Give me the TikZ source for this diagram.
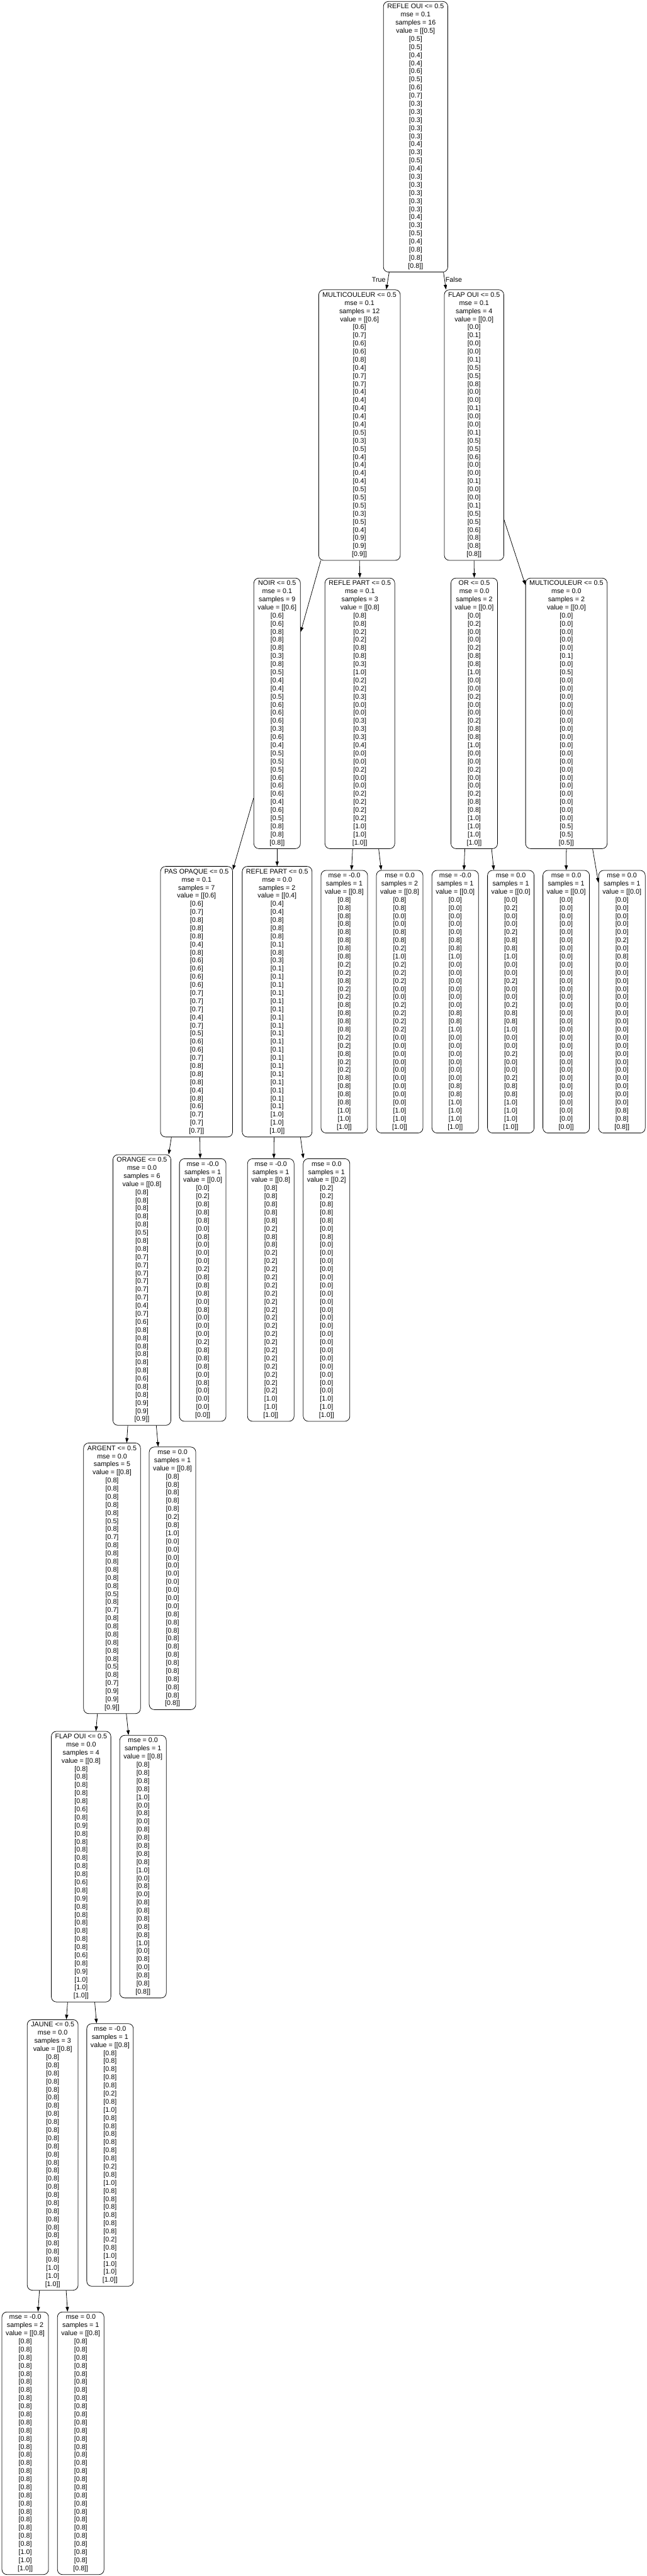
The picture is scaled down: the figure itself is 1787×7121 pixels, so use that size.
\documentclass[tikz,border=0pt]{standalone}
\usepackage{fontspec}
\usepackage{tikz}
\usetikzlibrary{arrows.meta}

\newfontfamily\gvfont{Liberation Sans}

%% one line "[x]" per value, the list is comma separated
\def\vrowsend{}
\def\vrows#1{\vrowsstep#1,\vrowsend,}
\def\vrowsstep#1#2,{\ifx\vrowsend#1\else\\{}[#1#2]\expandafter\vrowsstep\fi}

\begin{document}
\begin{tikzpicture}[x=1pt, y=-1pt,
    split/.style={draw, line width=1.33pt, rounded corners=14pt, align=center,
        inner xsep=10.6pt, inner ysep=0pt, minimum height=748pt,
        font=\gvfont\fontsize{18.67}{22.4}\selectfont},
    leaf/.style={split, minimum height=726pt},
    link/.style={line width=1.33pt, -{Triangle[length=13pt, width=9pt]}},
    branch/.style={font=\gvfont\fontsize{18.67}{22.4}\selectfont}]

        \useasboundingbox (0,0) rectangle (1787,7121);

        %% ── Racine ─────────────────────────────────────────────────────────
        \node[split] (reflOui) at (1148,378)
            {REFLE OUI <= 0.5\\mse = 0.1\\samples = 16\\value = [[0.5]\vrows{0.5,0.5,0.4,0.4,0.6,
             0.5,0.6,0.7,0.3,0.3,0.3,0.3,0.3,0.4,0.3,0.5,0.4,0.3,0.3,0.3,
             0.3,0.3,0.4,0.3,0.5,0.4,0.8,0.8,0.8}]};

        %% ── Niveau 1 ───────────────────────────────────────────────────────
        \node[split] (multiA) at (993,1175)
            {MULTICOULEUR <= 0.5\\mse = 0.1\\samples = 12\\value = [[0.6]\vrows{0.6,0.7,0.6,0.6,0.8,
             0.4,0.7,0.7,0.4,0.4,0.4,0.4,0.4,0.5,0.3,0.5,0.4,0.4,0.4,0.4,
             0.5,0.5,0.5,0.3,0.5,0.4,0.9,0.9,0.9}]};
        \node[split] (flapA) at (1309.5,1175)
            {FLAP OUI <= 0.5\\mse = 0.1\\samples = 4\\value = [[0.0]\vrows{0.0,0.1,0.0,0.0,0.1,
             0.5,0.5,0.8,0.0,0.0,0.1,0.0,0.0,0.1,0.5,0.5,0.6,0.0,0.0,0.1,
             0.0,0.0,0.1,0.5,0.5,0.6,0.8,0.8,0.8}]};

        %% ── Niveau 2 ───────────────────────────────────────────────────────
        \node[split] (noir) at (765.5,1972)
            {NOIR <= 0.5\\mse = 0.1\\samples = 9\\value = [[0.6]\vrows{0.6,0.6,0.8,0.8,0.8,
             0.3,0.8,0.5,0.4,0.4,0.5,0.6,0.6,0.6,0.3,0.6,0.4,0.5,0.5,0.5,
             0.6,0.6,0.6,0.4,0.6,0.5,0.8,0.8,0.8}]};
        \node[split] (reflPartA) at (994,1972)
            {REFLE PART <= 0.5\\mse = 0.1\\samples = 3\\value = [[0.8]\vrows{0.8,0.8,0.2,0.2,0.8,
             0.8,0.3,1.0,0.2,0.2,0.3,0.0,0.0,0.3,0.3,0.3,0.4,0.0,0.0,0.2,
             0.0,0.0,0.2,0.2,0.2,0.2,1.0,1.0,1.0}]};
        \node[split] (orNode) at (1310,1972)
            {OR <= 0.5\\mse = 0.0\\samples = 2\\value = [[0.0]\vrows{0.0,0.2,0.0,0.0,0.2,
             0.8,0.8,1.0,0.0,0.0,0.2,0.0,0.0,0.2,0.8,0.8,1.0,0.0,0.0,0.2,
             0.0,0.0,0.2,0.8,0.8,1.0,1.0,1.0,1.0}]};
        \node[split] (multiB) at (1564.5,1972)
            {MULTICOULEUR <= 0.5\\mse = 0.0\\samples = 2\\value = [[0.0]\vrows{0.0,0.0,0.0,0.0,0.0,
             0.1,0.0,0.5,0.0,0.0,0.0,0.0,0.0,0.0,0.0,0.0,0.0,
             0.0,0.0,0.0,0.0,0.0,0.0,0.0,0.0,0.0,0.5,0.5,0.5}]};

        %% ── Niveau 3 ───────────────────────────────────────────────────────
        \node[split] (pasOpaque) at (543,2769)
            {PAS OPAQUE <= 0.5\\mse = 0.1\\samples = 7\\value = [[0.6]\vrows{0.6,0.7,0.8,0.8,0.8,
             0.4,0.8,0.6,0.6,0.6,0.6,0.7,0.7,0.7,0.4,0.7,0.5,0.6,0.6,0.7,
             0.8,0.8,0.8,0.4,0.8,0.6,0.7,0.7,0.7}]};
        \node[split] (reflPartB) at (765.5,2769)
            {REFLE PART <= 0.5\\mse = 0.0\\samples = 2\\value = [[0.4]\vrows{0.4,0.4,0.8,0.8,0.8,
             0.1,0.8,0.3,0.1,0.1,0.1,0.1,0.1,0.1,0.1,0.1,0.1,
             0.1,0.1,0.1,0.1,0.1,0.1,0.1,0.1,0.1,1.0,1.0,1.0}]};
        \node[leaf] (leafA) at (951,2769)
            {mse = -0.0\\samples = 1\\value = [[0.8]\vrows{0.8,0.8,0.8,0.8,0.8,
             0.8,0.8,0.8,0.2,0.2,0.8,0.2,0.2,0.8,0.8,0.8,0.8,0.2,0.2,0.8,
             0.2,0.2,0.8,0.8,0.8,0.8,1.0,1.0,1.0}]};
        \node[leaf] (leafB) at (1104,2769)
            {mse = 0.0\\samples = 2\\value = [[0.8]\vrows{0.8,0.8,0.0,0.0,0.8,
             0.8,0.2,1.0,0.2,0.2,0.2,0.0,0.0,0.2,0.2,0.2,0.2,0.0,0.0,0.0,
             0.0,0.0,0.0,0.0,0.0,0.0,1.0,1.0,1.0}]};
        \node[leaf] (leafC) at (1257.5,2769)
            {mse = -0.0\\samples = 1\\value = [[0.0]\vrows{0.0,0.0,0.0,0.0,0.0,
             0.8,0.8,1.0,0.0,0.0,0.0,0.0,0.0,0.0,0.8,0.8,1.0,0.0,0.0,0.0,
             0.0,0.0,0.0,0.8,0.8,1.0,1.0,1.0,1.0}]};
        \node[leaf] (leafD) at (1411,2769)
            {mse = 0.0\\samples = 1\\value = [[0.0]\vrows{0.0,0.2,0.0,0.0,0.2,
             0.8,0.8,1.0,0.0,0.0,0.2,0.0,0.0,0.2,0.8,0.8,1.0,0.0,0.0,0.2,
             0.0,0.0,0.2,0.8,0.8,1.0,1.0,1.0,1.0}]};
        \node[leaf] (leafE) at (1564,2769)
            {mse = 0.0\\samples = 1\\value = [[0.0]\vrows{0.0,0.0,0.0,0.0,0.0,0.0,0.0,0.0,0.0,0.0,
             0.0,0.0,0.0,0.0,0.0,0.0,0.0,0.0,0.0,0.0,
             0.0,0.0,0.0,0.0,0.0,0.0,0.0,0.0,0.0}]};
        \node[leaf] (leafF) at (1718,2769)
            {mse = 0.0\\samples = 1\\value = [[0.0]\vrows{0.0,0.0,0.0,0.0,0.0,
             0.2,0.0,0.8,0.0,0.0,0.0,0.0,0.0,0.0,0.0,0.0,0.0,
             0.0,0.0,0.0,0.0,0.0,0.0,0.0,0.0,0.0,0.8,0.8,0.8}]};

        %% ── Niveau 4 ───────────────────────────────────────────────────────
        \node[split] (orange) at (392,3566)
            {ORANGE <= 0.5\\mse = 0.0\\samples = 6\\value = [[0.8]\vrows{0.8,0.8,0.8,0.8,0.8,
             0.5,0.8,0.8,0.7,0.7,0.7,0.7,0.7,0.7,0.4,0.7,0.6,0.8,0.8,0.8,
             0.8,0.8,0.8,0.6,0.8,0.8,0.9,0.9,0.9}]};
        \node[leaf] (leafG) at (560,3566)
            {mse = -0.0\\samples = 1\\value = [[0.0]\vrows{0.0,0.2,0.8,0.8,0.8,
             0.0,0.8,0.0,0.0,0.0,0.2,0.8,0.8,0.8,0.0,0.8,0.0,0.0,0.0,0.2,
             0.8,0.8,0.8,0.0,0.8,0.0,0.0,0.0,0.0}]};
        \node[leaf] (leafH) at (748,3566)
            {mse = -0.0\\samples = 1\\value = [[0.8]\vrows{0.8,0.8,0.8,0.8,0.8,
             0.2,0.8,0.8,0.2,0.2,0.2,0.2,0.2,0.2,0.2,0.2,0.2,
             0.2,0.2,0.2,0.2,0.2,0.2,0.2,0.2,0.2,1.0,1.0,1.0}]};
        \node[leaf] (leafI) at (902,3566)
            {mse = 0.0\\samples = 1\\value = [[0.2]\vrows{0.2,0.2,0.8,0.8,0.8,
             0.0,0.8,0.0,0.0,0.0,0.0,0.0,0.0,0.0,0.0,0.0,0.0,
             0.0,0.0,0.0,0.0,0.0,0.0,0.0,0.0,0.0,1.0,1.0,1.0}]};

        %% ── Niveau 5 ───────────────────────────────────────────────────────
        \node[split] (argent) at (309.5,4363)
            {ARGENT <= 0.5\\mse = 0.0\\samples = 5\\value = [[0.8]\vrows{0.8,0.8,0.8,0.8,0.8,
             0.5,0.8,0.7,0.8,0.8,0.8,0.8,0.8,0.8,0.5,0.8,0.7,0.8,0.8,0.8,
             0.8,0.8,0.8,0.5,0.8,0.7,0.9,0.9,0.9}]};
        \node[leaf] (leafJ) at (476.5,4363)
            {mse = 0.0\\samples = 1\\value = [[0.8]\vrows{0.8,0.8,0.8,0.8,0.8,
             0.2,0.8,1.0,0.0,0.0,0.0,0.0,0.0,0.0,0.0,0.0,0.0,
             0.8,0.8,0.8,0.8,0.8,0.8,0.8,0.8,0.8,0.8,0.8,0.8}]};

        %% ── Niveau 6 ───────────────────────────────────────────────────────
        \node[split] (flapB) at (224,5160)
            {FLAP OUI <= 0.5\\mse = 0.0\\samples = 4\\value = [[0.8]\vrows{0.8,0.8,0.8,0.8,0.8,
             0.6,0.8,0.9,0.8,0.8,0.8,0.8,0.8,0.8,0.6,0.8,0.9,0.8,0.8,0.8,
             0.8,0.8,0.8,0.6,0.8,0.9,1.0,1.0,1.0}]};
        \node[leaf] (leafK) at (395,5160)
            {mse = 0.0\\samples = 1\\value = [[0.8]\vrows{0.8,0.8,0.8,0.8,1.0,
             0.0,0.8,0.0,0.8,0.8,0.8,0.8,0.8,1.0,0.0,0.8,0.0,0.8,0.8,0.8,
             0.8,0.8,1.0,0.0,0.8,0.0,0.8,0.8,0.8}]};

        %% ── Niveau 7 ───────────────────────────────────────────────────────
        \node[split] (jaune) at (145.5,5957)
            {JAUNE <= 0.5\\mse = 0.0\\samples = 3\\value = [[0.8]\vrows{0.8,0.8,0.8,0.8,0.8,0.8,0.8,0.8,0.8,
             0.8,0.8,0.8,0.8,0.8,0.8,0.8,0.8,0.8,
             0.8,0.8,0.8,0.8,0.8,0.8,0.8,0.8,1.0,1.0,1.0}]};
        \node[leaf] (leafL) at (304,5957)
            {mse = -0.0\\samples = 1\\value = [[0.8]\vrows{0.8,0.8,0.8,0.8,0.8,
             0.2,0.8,1.0,0.8,0.8,0.8,0.8,0.8,0.8,0.2,0.8,1.0,0.8,0.8,0.8,
             0.8,0.8,0.8,0.2,0.8,1.0,1.0,1.0,1.0}]};

        %% ── Niveau 8 ───────────────────────────────────────────────────────
        \node[leaf] (leafM) at (69.7,6754)
            {mse = -0.0\\samples = 2\\value = [[0.8]\vrows{0.8,0.8,0.8,0.8,0.8,0.8,0.8,0.8,0.8,
             0.8,0.8,0.8,0.8,0.8,0.8,0.8,0.8,0.8,
             0.8,0.8,0.8,0.8,0.8,0.8,0.8,0.8,1.0,1.0,1.0}]};
        \node[leaf] (leafN) at (223,6754)
            {mse = 0.0\\samples = 1\\value = [[0.8]\vrows{0.8,0.8,0.8,0.8,0.8,0.8,0.8,0.8,0.8,0.8,
             0.8,0.8,0.8,0.8,0.8,0.8,0.8,0.8,0.8,0.8,
             0.8,0.8,0.8,0.8,0.8,0.8,0.8,0.8,0.8}]};

        %% ── Branches ───────────────────────────────────────────────────────
        \draw[link] ([xshift=-73pt]reflOui.south)
            -- node[pos=0.43, anchor=east, inner sep=6pt, branch] {True}
            ([xshift=74pt]multiA.north);
        \draw[link] ([xshift=77pt]reflOui.south)
            -- node[pos=0.43, anchor=west, inner sep=2pt, branch] {False}
            ([xshift=-77.5pt]flapA.north);

        \draw[link] ([xshift=-107pt]multiA.south) -- ([yshift=225pt]noir.east);
        \draw[link] (multiA.south) -- (reflPartA.north);
        \draw[link] (flapA.south) -- (orNode.north);
        \draw[link] ([yshift=-262pt]flapA.east) -- ([yshift=355pt]multiB.west);

        \draw[link] ([yshift=-234pt]noir.west) -- ([yshift=-10pt]pasOpaque.north east);
        \draw[link] (noir.south) -- (reflPartB.north);
        \draw[link] ([xshift=-20pt]reflPartA.south) -- ([xshift=20pt]leafA.north);
        \draw[link] ([xshift=52pt]reflPartA.south) -- ([xshift=-51pt]leafB.north);
        \draw[link] ([xshift=-26pt]orNode.south) -- ([xshift=24pt]leafC.north);
        \draw[link] ([xshift=48pt]orNode.south) -- ([xshift=-47pt]leafD.north);
        \draw[link] (multiB.south) -- (leafE.north);
        \draw[link] ([xshift=72.5pt]multiB.south) -- ([yshift=329pt]leafF.west);

        \draw[link] ([xshift=-69.5pt]pasOpaque.south) -- ([xshift=74pt]orange.north);
        \draw[link] ([xshift=9pt]pasOpaque.south) -- ([xshift=-7pt]leafG.north);
        \draw[link] ([xshift=-8.5pt]reflPartB.south) -- ([xshift=8.5pt]leafH.north);
        \draw[link] ([xshift=64.5pt]reflPartB.south) -- ([xshift=-64pt]leafI.north);

        \draw[link] ([xshift=-39pt]orange.south) -- ([xshift=40.5pt]argent.north);
        \draw[link] ([xshift=39.7pt]orange.south) -- ([xshift=-39.5pt]leafJ.north);

        \draw[link] ([xshift=-40.5pt]argent.south) -- ([xshift=41pt]flapB.north);
        \draw[link] ([xshift=39.5pt]argent.south) -- ([xshift=-40pt]leafK.north);

        \draw[link] ([xshift=-37.3pt]flapB.south) -- ([xshift=37.8pt]jaune.north);
        \draw[link] ([xshift=37.7pt]flapB.south) -- ([xshift=-37.3pt]leafL.north);

        \draw[link] ([xshift=-36.5pt]jaune.south) -- ([xshift=35.3pt]leafM.north);
        \draw[link] ([xshift=37.2pt]jaune.south) -- ([xshift=-36.3pt]leafN.north);

    \end{tikzpicture}
\end{document}
